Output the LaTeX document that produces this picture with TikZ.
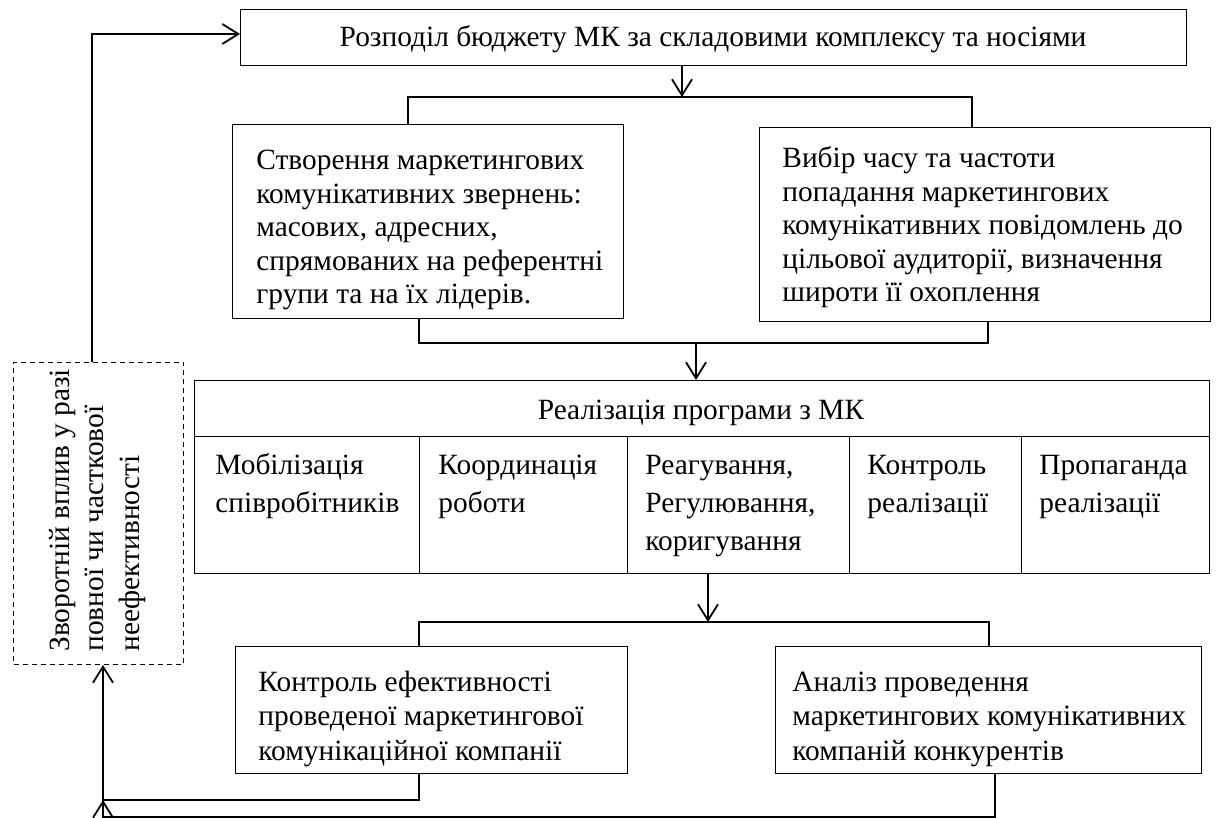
\documentclass[tikz,border=0pt]{standalone}
\usepackage{fontspec}
\setmainfont{Liberation Serif}
\usetikzlibrary{arrows.meta}
\begin{document}
\begin{tikzpicture}[x=0.5pt,y=-0.5pt,
  box/.style={draw, line width=0.7pt, inner sep=0pt, anchor=north west},
  dbox/.style={draw, line width=0.5pt, dash pattern=on 2.5pt off 2pt, inner sep=0pt, anchor=north west},
  txt/.style={inner sep=0pt, align=left, font=\fontsize{14.7}{16.75}\selectfont},
  ctxt/.style={inner sep=0pt, align=left, font=\fontsize{14.7}{19}\selectfont},
  btxt/.style={inner sep=0pt, align=left, font=\fontsize{14.7}{17.5}\selectfont},
  ln/.style={line width=0.9pt},
  arr/.style={ln, -{Straight Barb[length=8pt,width=10pt]}}
]
\useasboundingbox (0,0) rectangle (1223,818);

% boxes
\node[box, minimum width=473pt, minimum height=28pt] (top) at (240,9) {};
\node[box, minimum width=195.5pt, minimum height=97pt] (lm) at (232,124) {};
\node[box, minimum width=225.5pt, minimum height=97pt] (rm) at (759,127) {};
\node[box, minimum width=507.5pt, minimum height=28pt] (hdr) at (194,380) {};
\node[box, minimum width=112.5pt, minimum height=68.5pt] (k1) at (194,436) {};
\node[box, minimum width=104pt, minimum height=68.5pt] (k2) at (419,436) {};
\node[box, minimum width=111pt, minimum height=68.5pt] (k3) at (627,436) {};
\node[box, minimum width=86pt, minimum height=68.5pt] (k4) at (849,436) {};
\node[box, minimum width=94pt, minimum height=68.5pt] (k5) at (1021,436) {};
\node[box, minimum width=196pt, minimum height=63.5pt] (bl) at (235,646) {};
\node[box, minimum width=213pt, minimum height=63.5pt] (br) at (775,646) {};
\node[dbox, minimum width=85pt, minimum height=151pt] (fb) at (13,362) {};

% texts (base = baseline of last line)
\node[txt, anchor=base] (ttop) at (713,47) {Розподіл бюджету МК за складовими комплексу та носіями};
\node[txt, anchor=base west] (tlm) at (256,304) {Створення маркетингових\\комунікативних звернень:\\масових, адресних,\\спрямованих на референтні\\групи та на їх лідерів.};
\node[txt, anchor=base west] (trm) at (782,302) {Вибір часу та частоти\\попадання маркетингових\\комунікативних повідомлень до\\цільової аудиторії, визначення\\широти її охоплення};
\node[txt, anchor=base] (thdr) at (701,420) {Реалізація програми з МК};
\node[ctxt, anchor=base west] (tk1) at (215,513) {Мобілізація\\співробітників};
\node[ctxt, anchor=base west] (tk2) at (438,513) {Координація\\роботи};
\node[ctxt, anchor=base west] (tk3) at (645,551) {Реагування,\\Регулювання,\\коригування};
\node[ctxt, anchor=base west] (tk4) at (867,513) {Контроль\\реалізації};
\node[ctxt, anchor=base west] (tk5) at (1039,513) {Пропаганда\\реалізації};
\node[btxt, anchor=base west] (tbl) at (258,761) {Контроль ефективності\\проведеної маркетингової\\комунікаційної компанії};
\node[btxt, anchor=base west] (tbr) at (792,761) {Аналіз проведення\\маркетингових комунікативних\\компаній конкурентів};
\node[btxt, anchor=base west, rotate=90] (tfb) at (139,652) {Зворотній вплив у разі\\повної чи часткової\\неефективності};

% connector coordinates
\coordinate (fbtop) at (92,34);
\coordinate (a1) at (682,97);
\coordinate (l1) at (408,97);
\coordinate (r1) at (972,97);
\coordinate (l2) at (419,343);
\coordinate (r2) at (988,343);
\coordinate (a2) at (696,343);
\coordinate (a3) at (708,622);
\coordinate (l3) at (419,622);
\coordinate (r3) at (989,622);
\coordinate (l4) at (419,800);
\coordinate (f4) at (103,800);
\coordinate (r5) at (995,817);
\coordinate (f5) at (103,817);

% connectors
\draw[arr] (fb.north -| fbtop) -- (fbtop) -- (fbtop -| top.west);
\draw[arr] (top.south -| a1) -- (a1);
\draw[ln] (lm.north -| l1) -- (l1) -- (r1) -- (rm.north -| r1);
\draw[ln] (lm.south -| l2) -- (l2) -- (r2) -- (rm.south -| r2);
\draw[arr] (a2) -- (hdr.north -| a2);
\draw[arr] (k3.south -| a3) -- (a3);
\draw[ln] (bl.north -| l3) -- (l3) -- (r3) -- (br.north -| r3);
\draw[arr] (bl.south -| l4) -- (l4) -- (f4) -- (fb.south -| f4);
\draw[arr] (br.south -| r5) -- (r5) -- (f5) -- (f4);
\end{tikzpicture}
\end{document}
